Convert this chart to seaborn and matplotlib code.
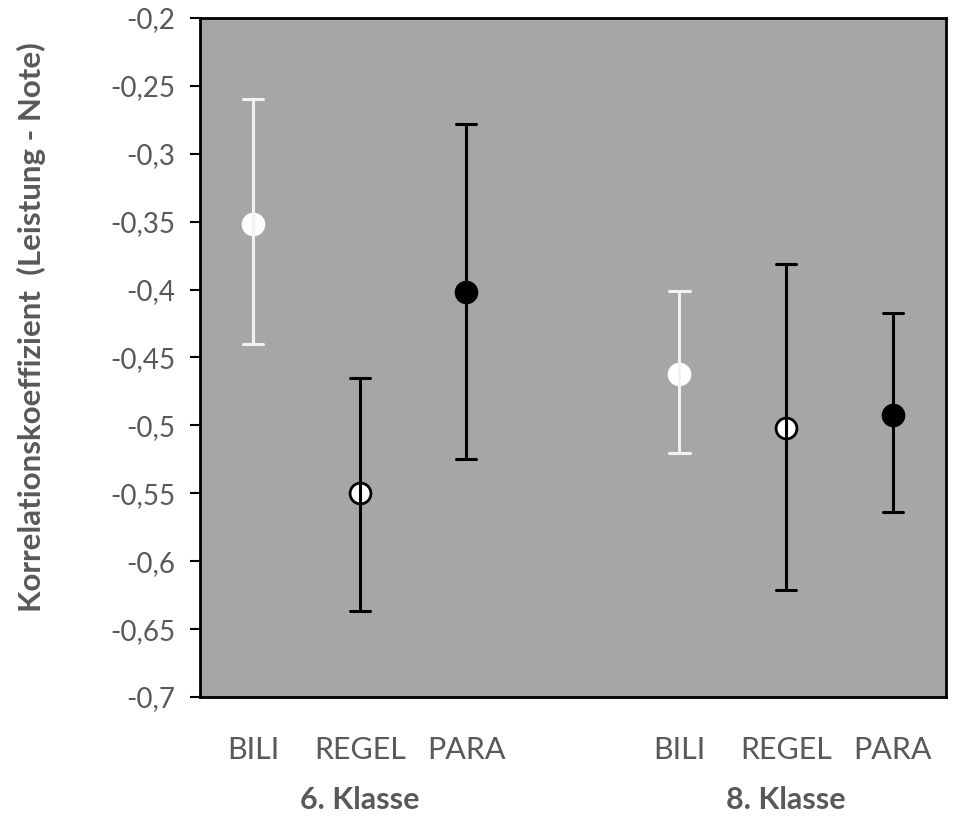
import pandas as pd
import seaborn as sns
import matplotlib.pyplot as plt

grades = ["6. Klasse", "6. Klasse", "6. Klasse", "8. Klasse", "8. Klasse", "8. Klasse"]
conditions = ["BILI", "REGEL", "PARA", "BILI", "REGEL", "PARA"]
r_mean = [-0.352, -0.550, -0.402, -0.462, -0.502, -0.492]
r_low = [-0.440, -0.637, -0.525, -0.520, -0.621, -0.564]
r_high = [-0.260, -0.465, -0.278, -0.401, -0.381, -0.417]
y_ticks = [-0.2, -0.25, -0.3, -0.35, -0.4, -0.45, -0.5, -0.55, -0.6, -0.65, -0.7]

# long table: low / mean / high per cell, median = mean, full range = CI
rows = []
for g, c, m, lo, hi in zip(grades, conditions, r_mean, r_low, r_high):
    for v in (lo, m, hi):
        rows.append({"key": c + " " + g, "cond": c, "value": v})
db = pd.DataFrame(rows)

order = ["BILI 6. Klasse", "REGEL 6. Klasse", "PARA 6. Klasse", "",
         "BILI 8. Klasse", "REGEL 8. Klasse", "PARA 8. Klasse"]

styles = {
    "BILI": dict(color="#f2f2f2", markerfacecolor="#ffffff", markeredgecolor="#ffffff"),
    "REGEL": dict(color="black", markerfacecolor="white", markeredgecolor="black"),
    "PARA": dict(color="black", markerfacecolor="black", markeredgecolor="black"),
}

sns.set_style("white")
plt.rcParams['font.family'] = ['Lato', 'DejaVu Sans']

fig = plt.figure(figsize=(9.56, 8.19), dpi=100)
ax = fig.add_axes([0.209, 0.149, 0.7805, 0.829])
ax.set_facecolor("#a6a6a6")

for c, st in styles.items():
    sns.pointplot(data=db[db["cond"] == c], x="key", y="value", order=order,
                  estimator="median", errorbar=("pi", 100), capsize=0.19,
                  linestyle="none", markersize=15, markeredgewidth=2,
                  err_kws={"linewidth": 2.2}, ax=ax, **st)

ax.set_ylim(-0.7, -0.2)
ax.set_xlim(-0.5, 6.5)
ax.set_yticks(y_ticks)
ax.set_yticklabels([("%g" % t).replace(".", ",") for t in y_ticks])
ax.set_xticks([i for i, k in enumerate(order) if k])
ax.set_xticklabels([k.split(" ")[0] for k in order if k])
ax.tick_params(axis="y", direction="out", length=7.5, width=1.5, color="black",
               labelsize=20, labelcolor="#595959", pad=10, left=True)
ax.tick_params(axis="x", length=0, labelsize=22, labelcolor="#595959", pad=28)
for s in ax.spines.values():
    s.set_color("black")
    s.set_linewidth(2)
    s.set_visible(True)

ax.set_xlabel("")
ax.set_ylabel("Korrelationskoeffizient  (Leistung - Note)", fontsize=22.5,
              fontweight="bold", color="#595959")
ax.yaxis.set_label_coords(-0.206, 0.545)

for g in ["6. Klasse", "8. Klasse"]:
    ax.text(order.index("REGEL " + g), -0.776, g, ha="center", va="center",
            fontsize=22, fontweight="bold", color="#595959", clip_on=False)

plt.savefig("out.png", dpi=100)
